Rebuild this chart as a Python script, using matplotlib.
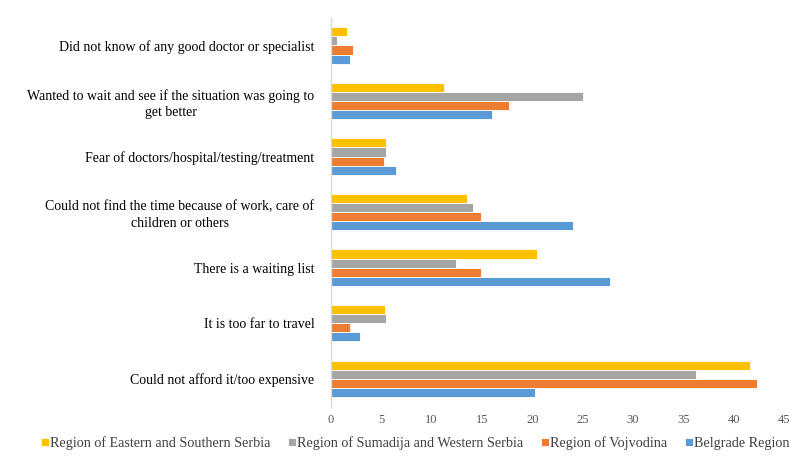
import matplotlib
matplotlib.use("Agg")
import matplotlib.pyplot as plt
import numpy as np

categories = [
    "Could not afford it/too expensive",
    "It is too far to travel",
    "There is a waiting list",
    "Could not find the time because of work, care of\nchildren or others",
    "Fear of doctors/hospital/testing/treatment",
    "Wanted to wait and see if the situation was going to\nget better",
    "Did not know of any good doctor or specialist",
]
belgrade = [20.3, 2.9, 27.7, 24.0, 6.5, 16.0, 1.85]
vojvodina = [42.3, 1.85, 14.9, 14.9, 5.3, 17.7, 2.2]
sumadija = [36.3, 5.5, 12.4, 14.1, 5.5, 25.0, 0.55]
eastern = [41.6, 5.35, 20.5, 13.5, 5.5, 11.2, 1.55]

series = [
    ("Belgrade Region", belgrade, "#5B9BD5"),
    ("Region of Vojvodina", vojvodina, "#ED7D31"),
    ("Region of Sumadija and Western Serbia", sumadija, "#A5A5A5"),
    ("Region of Eastern and Southern Serbia", eastern, "#FFC000"),
]

plt.rcParams['font.family'] = ['Liberation Serif', 'DejaVu Serif']

fig = plt.figure(figsize=(7.96, 4.57), dpi=100)
top_px, bot_px = 17.7, 406.6
ax = fig.add_axes([331/796, 1 - bot_px/457, (784-331)/796, (bot_px-top_px)/457])

y = np.arange(len(categories))
h = 0.164
offsets = [-1.5*h, -0.5*h, 0.5*h, 1.5*h]
for (name, vals, col), off in zip(series, offsets):
    ax.barh(y + off, vals, height=h, color=col, edgecolor="white", linewidth=0.6, label=name)

ax.set_xlim(0, 45)
ax.set_ylim(-0.5, len(categories) - 0.5)
ax.set_xticks(np.arange(0, 46, 5))
ax.set_yticks(y)
ax.set_yticklabels(categories, fontsize=10, ha="right", multialignment="center", linespacing=1.35)
ax.tick_params(axis="y", length=0, pad=12)
ax.tick_params(axis="x", length=0, labelsize=9, colors="#595959", pad=5)
for lab in ax.get_yticklabels():
    lab.set_color("black")
for s in ["top", "right", "bottom"]:
    ax.spines[s].set_visible(False)
ax.spines["left"].set_color("#D9D9D9")
ax.spines["left"].set_linewidth(1.0)

handles, labels = ax.get_legend_handles_labels()
leg = fig.legend(handles[::-1], labels[::-1], loc="center", bbox_to_anchor=(415/796, 1 - 443/457),
                 ncol=4, frameon=False, fontsize=10.2, handlelength=0.56, handleheight=0.56,
                 handletextpad=0.08, columnspacing=1.25, borderaxespad=0)
for t in leg.get_texts():
    t.set_color("#404040")

fig.savefig("out.png", dpi=100)
